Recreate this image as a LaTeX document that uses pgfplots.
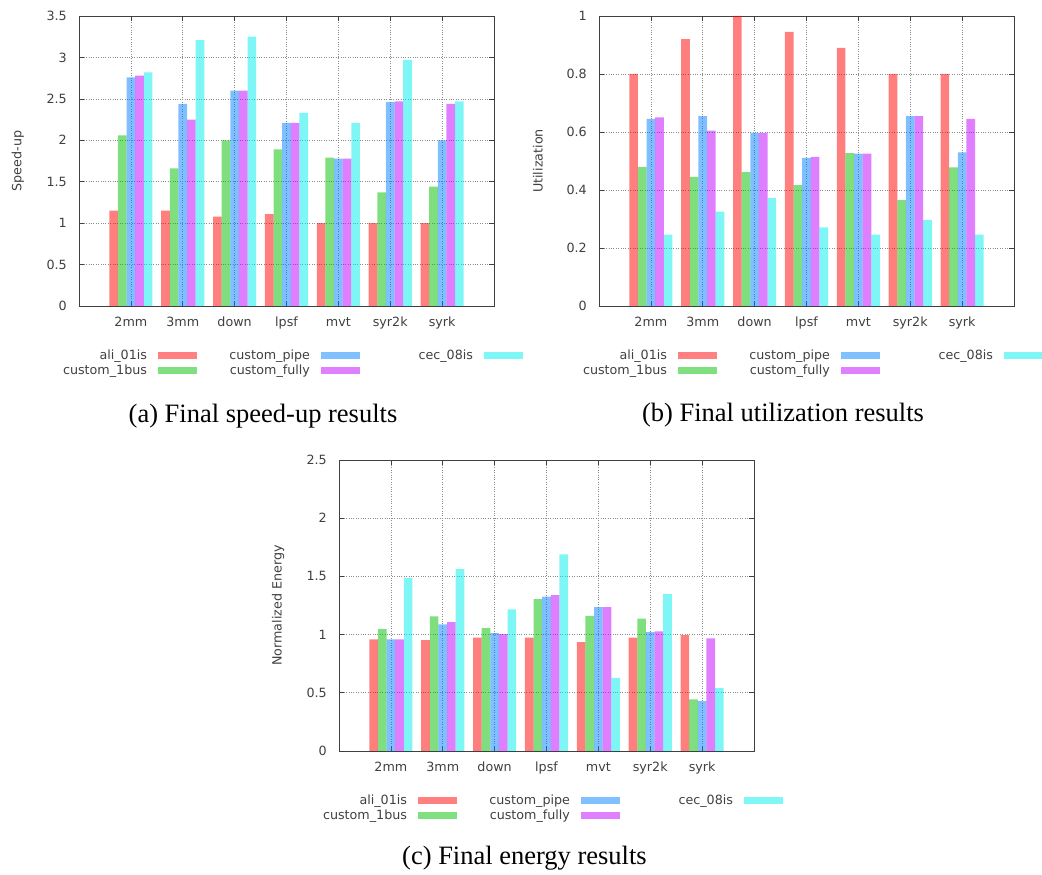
\documentclass[border=0pt]{standalone}
\usepackage{pgfplots}
\pgfplotsset{compat=1.18}
\usepackage{pgfplotstable}
\usepackage{fontspec}
\setmainfont{DejaVu Sans}
\newfontfamily\capfont{Liberation Serif}

\definecolor{cA}{HTML}{FF0000}
\definecolor{cB}{HTML}{00C000}
\definecolor{cC}{HTML}{0080FF}
\definecolor{cD}{HTML}{C000FF}
\definecolor{cE}{HTML}{00EEEE}
\definecolor{lA}{HTML}{FF8080}
\definecolor{lB}{HTML}{80E080}
\definecolor{lC}{HTML}{80C0FF}
\definecolor{lD}{HTML}{E080FF}
\definecolor{lE}{HTML}{80F7F7}
\definecolor{txt}{HTML}{404040}

\pgfplotstableread{
x a b c d e
1 1.15 2.06 2.76 2.78 2.82
2 1.15 1.66 2.44 2.25 3.21
3 1.08 2.00 2.60 2.60 3.25
4 1.11 1.89 2.21 2.21 2.33
5 1.00 1.79 1.78 1.78 2.21
6 1.00 1.37 2.46 2.47 2.97
7 1.00 1.44 2.00 2.44 2.47
}\speedup

\pgfplotstableread{
x a b c d e
1 0.80 0.480 0.645 0.650 0.246
2 0.92 0.445 0.655 0.605 0.325
3 1.00 0.462 0.597 0.597 0.373
4 0.945 0.417 0.511 0.514 0.271
5 0.89 0.527 0.525 0.525 0.246
6 0.80 0.365 0.655 0.655 0.297
7 0.80 0.478 0.530 0.645 0.246
}\util

\pgfplotstableread{
x a b c d e
1 0.960 1.050 0.960 0.960 1.487
2 0.952 1.156 1.087 1.107 1.562
3 0.975 1.055 1.013 1.004 1.216
4 0.975 1.304 1.327 1.339 1.690
5 0.935 1.161 1.236 1.236 0.629
6 0.975 1.138 1.021 1.027 1.347
7 0.995 0.443 0.429 0.967 0.541
}\energy

\newcommand\lentry[2]{\makebox[113pt][r]{\rule[-4pt]{0pt}{16pt}#1}\hspace{11pt}{\color{#2}\rule[0.5pt]{39pt}{7.5pt}}}

\pgfplotsset{
  gp/.style={
    scale only axis, width=415pt, height=290pt,
    xmin=0, xmax=8, ymin=0,
    xtick={1,...,7}, xticklabels={2mm,3mm,down,lpsf,mvt,syr2k,syrk},
    ybar, bar width=0.16667,
    grid=major, grid style={dotted, black!45, line width=0.6pt},
    axis line style={txt, line width=0.8pt},
    tick align=inside, major tick length=5pt, tick style={txt, line width=0.6pt},
    tick label style={font=\fontsize{12.7}{14}\selectfont, text=txt, inner sep=0pt},
    yticklabel style={xshift=-12pt},
    xticklabel style={yshift=-11pt},
    /pgf/number format/assume math mode=true,
    label style={font=\fontsize{12.7}{14}\selectfont, text=txt},
    ylabel style={at={(axis description cs:-0.147,0.5)}, anchor=center},
    legend columns=3,
    legend style={at={(0,0)}, anchor=north west, xshift=-45pt, yshift=-42pt,
      draw=none, fill=none, inner sep=0pt, outer sep=0pt,
      column sep=0pt, row sep=1.5pt, font=\fontsize{12.7}{14}\selectfont, text=txt,
      nodes={inner sep=0pt, outer sep=0pt}},
    legend image code/.code={},
  },
}

\newcommand\bars[1]{%
  \addplot[fill=cA, fill opacity=0.5, draw=none, forget plot, bar shift=-0.33333] table[x=x,y=a] {#1};
  \addplot[fill=cB, fill opacity=0.5, draw=none, forget plot, bar shift=-0.16667] table[x=x,y=b] {#1};
  \addplot[fill=cC, fill opacity=0.5, draw=none, forget plot, bar shift=0] table[x=x,y=c] {#1};
  \addplot[fill=cD, fill opacity=0.5, draw=none, forget plot, bar shift=0.16667] table[x=x,y=d] {#1};
  \addplot[fill=cE, fill opacity=0.5, draw=none, forget plot, bar shift=0.33333] table[x=x,y=e] {#1};
  \addlegendimage{empty legend}\addlegendentry{\lentry{ali\_01is}{lA}}
  \addlegendimage{empty legend}\addlegendentry{\lentry{custom\_pipe}{lC}}
  \addlegendimage{empty legend}\addlegendentry{\lentry{cec\_08is}{lE}}
  \addlegendimage{empty legend}\addlegendentry{\lentry{custom\_1bus}{lB}}
  \addlegendimage{empty legend}\addlegendentry{\lentry{custom\_fully}{lD}}
}

\begin{document}
\begin{tikzpicture}
\path[use as bounding box] (0,0) rectangle (1042pt,875pt);

\begin{axis}[gp, at={(79pt,569pt)}, anchor=south west,
  ymax=3.5, ytick={0,0.5,...,3.5}, ylabel={Speed-up}]
\bars{\speedup}
\end{axis}

\begin{axis}[gp, at={(599pt,569pt)}, anchor=south west,
  ymax=1, ytick={0,0.2,0.4,0.6,0.8,1}, ylabel={Utilization}]
\bars{\util}
\end{axis}

\begin{axis}[gp, at={(339pt,124pt)}, anchor=south west, height=291pt,
  ymax=2.5, ytick={0,0.5,...,2.5}, ylabel={Normalized Energy}]
\bars{\energy}
\end{axis}

\node[anchor=base, font=\capfont\fontsize{26.5}{30}\selectfont] at (263pt,452pt) {(a)\ Final speed-up results};
\node[anchor=base, font=\capfont\fontsize{26.5}{30}\selectfont] at (783pt,453pt) {(b)\ Final utilization results};
\node[anchor=base, font=\capfont\fontsize{26.5}{30}\selectfont] at (524.5pt,10pt) {(c)\ Final energy results};
\end{tikzpicture}
\end{document}
